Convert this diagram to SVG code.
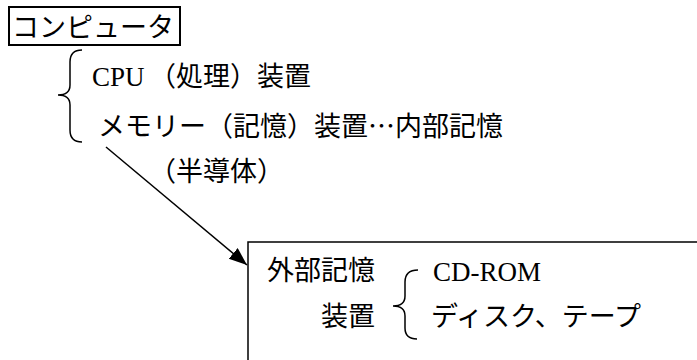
<svg xmlns="http://www.w3.org/2000/svg" width="697" height="360" viewBox="0 0 697 360">
<style>
.jp{font-family:"Noto Sans CJK JP","Noto Sans",sans-serif;font-size:27px;fill:#000}
.lat{font-family:"Liberation Serif","Times New Roman",serif;font-size:27px;fill:#000}
.brace{fill:none;stroke:#000;stroke-width:1.5}
.box{fill:#fff;stroke:#000;stroke-width:1.5}
.conn{fill:none;stroke:#000;stroke-width:1.5}
</style>
<defs>
<marker id="arr" markerUnits="userSpaceOnUse" markerWidth="20" markerHeight="16" refX="18" refY="7" orient="auto">
<path d="M0,0 L18,7 L0,14 Z" fill="#000"/>
</marker>
</defs>
<rect width="697" height="360" fill="#fff"/>
<g id="computer">
<rect x="9" y="7" width="171" height="38" fill="none" stroke="#000" stroke-width="2"/>
<text class="jp" x="12" y="37">コンピュータ</text>
</g>
<g id="internal">
<path class="brace" d="M82,50 Q70,50 70,62 L70,85 Q70,95 58,95 Q70,95 70,105 L70,130 Q70,142 82,142"/>
<text y="86"><tspan class="lat" x="92">CPU</tspan><tspan class="jp" x="149">（処理）装置</tspan></text>
<text class="jp" x="98" y="136">メモリー（記憶）装置…内部記憶</text>
<text class="jp" x="149" y="181">（半導体）</text>
</g>
<g id="connectors">
<line class="conn" x1="106" y1="147" x2="247" y2="265" marker-end="url(#arr)"/>
</g>
<g id="external">
<rect class="box" x="248" y="242" width="520" height="200"/>
<text class="jp" x="267" y="280">外部記憶</text>
<text class="jp" x="321" y="326">装置</text>
<path class="brace" d="M418,270 Q405,270 405,282 L405,296 Q405,306 393,306 Q405,306 405,316 L405,328 Q405,339 417,339"/>
<text class="lat" x="433" y="281">CD-ROM</text>
<text class="jp" x="431" y="326">ディスク、テープ</text>
</g>
</svg>
